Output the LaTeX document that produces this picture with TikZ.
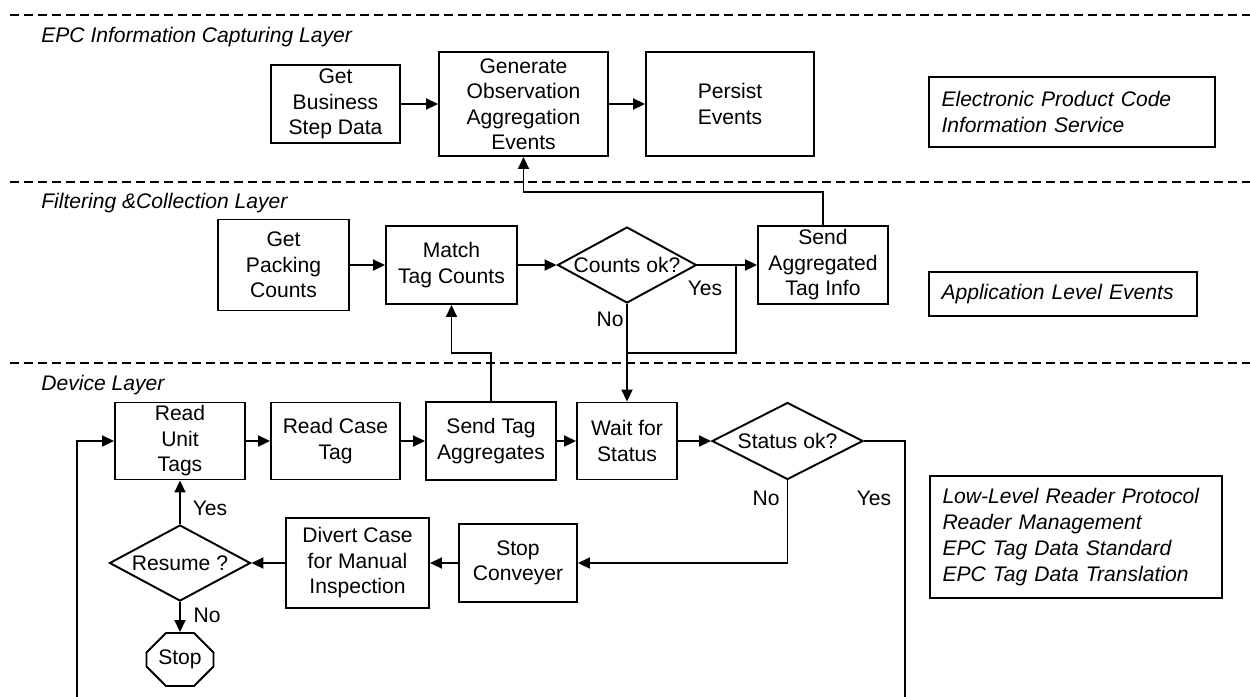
\documentclass[tikz,border=0pt]{standalone}
\usepackage{fontspec}
\setmainfont{Liberation Sans}
\usetikzlibrary{arrows.meta,shapes.geometric,shapes.misc}

\begin{document}
\begin{tikzpicture}[x=0.2mm, y=-0.2mm,
  font=\fontsize{12}{14.5}\selectfont,
  box/.style={draw, line width=1.1pt, align=center, inner sep=0pt},
  decision/.style={diamond, draw, line width=1.1pt, inner sep=0pt},
  halt/.style={chamfered rectangle, chamfered rectangle xsep=2mm, chamfered rectangle ysep=2mm, draw, line width=1.1pt, inner sep=0pt},
  note/.style={draw, line width=1.1pt, align=left, inner xsep=2.5mm, inner ysep=0pt, font=\fontsize{12}{14.8}\selectfont\itshape},
  layername/.style={anchor=west, inner sep=0pt, font=\fontsize{12}{14.5}\selectfont\itshape},
  wire/.style={line width=1.1pt},
  arr/.style={line width=1.1pt, -{Triangle[length=2.4mm, width=2.2mm]}},
  divider/.style={line width=1.1pt, dash pattern=on 1.8mm off 1mm}]
%\draw [lightgray](0,0) grid[step=50] (1250,696);
\useasboundingbox (0,0) rectangle (1250,696);

\draw [divider](10,15) -- (1250,15);
\draw [divider](10,182) -- (1250,182);
\draw [divider](10,363) -- (1250,363);

\node [layername] (lcap) at (41,37) {EPC Information Capturing Layer};
\node [layername] (lfil) at (41,203) {Filtering \&Collection Layer};
\node [layername] (ldev) at (41,385) {Device Layer};

% capturing layer
\node [box, minimum width=25.8mm, minimum height=15.6mm] (gbs) at (335.5,104) {Get\\Business\\Step Data};
\node [box, minimum width=33.8mm, minimum height=20.8mm] (gen) at (523.5,104) {Generate\\Observation\\Aggregation\\Events};
\node [box, minimum width=33.6mm, minimum height=20.8mm] (per) at (730,104) {Persist\\Events};
\node [note, text width=52.2mm, minimum height=14mm] (epcis) at (1072,112) {Electronic Product Code\\Information Service};

% filtering layer
\node [box, minimum width=26.2mm, minimum height=18.2mm] (gpc) at (283.5,265) {Get\\Packing\\Counts};
\node [box, minimum width=26.2mm, minimum height=15.6mm] (mtc) at (451.5,265) {Match\\Tag Counts};
\node [decision, minimum width=27.8mm, minimum height=15.2mm] (cok) at (627,265) {\makebox[0pt]{Counts ok?}};
\node [box, minimum width=26mm, minimum height=15.6mm] (sat) at (823,265) {Send\\Aggregated\\Tag Info};
\node [note, text width=48.6mm, minimum height=8.8mm] (ale) at (1063,294) {Application Level Events};

\node (ycok) at (705,288) {Yes};
\node (ncok) at (610,319) {No};
\coordinate (yj) at (736,265);
\coordinate (nj) at (627,353);

% device layer
\node [box, minimum width=26mm, minimum height=15.4mm] (rut) at (180,441) {Read\\Unit\\Tags};
\node [box, minimum width=25.8mm, minimum height=15.4mm] (rct) at (335.5,441) {Read Case\\Tag};
\node [box, minimum width=26mm, minimum height=15.6mm] (sta) at (491,441) {Send Tag\\Aggregates};
\node [box, minimum width=20mm, minimum height=15.4mm] (wfs) at (627,441) {Wait for\\Status};
\node [decision, minimum width=30.2mm, minimum height=15.4mm] (sok) at (787.5,441) {\makebox[0pt]{Status ok?}};
\node [decision, minimum width=28.2mm, minimum height=15.2mm] (res) at (180,563) {\makebox[0pt]{Resume ?}};
\node [box, minimum width=28.6mm, minimum height=18mm] (dcm) at (357.5,563) {Divert Case\\for Manual\\Inspection};
\node [box, minimum width=23.6mm, minimum height=15.6mm] (stc) at (518,563) {Stop\\Conveyer};
\node [halt, minimum width=13.4mm, minimum height=10.6mm] (stop) at (180,659.5) {Stop};
\node [note, text width=53.4mm, minimum height=24.4mm] (llrp) at (1076,537) {Low-Level Reader Protocol\\Reader Management\\EPC Tag Data Standard\\EPC Tag Data Translation};

\node (nsok) at (766,498) {No};
\node (ysok) at (874,498) {Yes};
\node (yres) at (210,508) {Yes};
\node (nres) at (207,615) {No};
\coordinate (lr) at (905,712);
\coordinate (ll) at (77,712);

\draw [arr](gbs) -- (gen);
\draw [arr](gen) -- (per);
\draw [arr](sat.north) |- ([yshift=-7mm]gen.south) -- (gen.south);

\draw [arr](gpc) -- (mtc);
\draw [arr](mtc) -- (cok);
\draw [arr](cok) -- (sat);
\draw [wire](yj) |- (nj);
\draw [arr](cok.south) -- (wfs.north);
\draw [arr](sta.north) |- (mtc.south |- nj) -- (mtc.south);

\draw [arr](rut) -- (rct);
\draw [arr](rct) -- (sta);
\draw [arr](sta) -- (wfs);
\draw [arr](wfs) -- (sok);
\draw [arr](sok.east) -| (lr) -- (ll) |- (rut.west);
\draw [arr](sok.south) |- (stc.east);
\draw [arr](stc) -- (dcm);
\draw [arr](dcm) -- (res);
\draw [arr](res) -- (rut);
\draw [arr](res) -- (stop);

\end{tikzpicture}
\end{document}
